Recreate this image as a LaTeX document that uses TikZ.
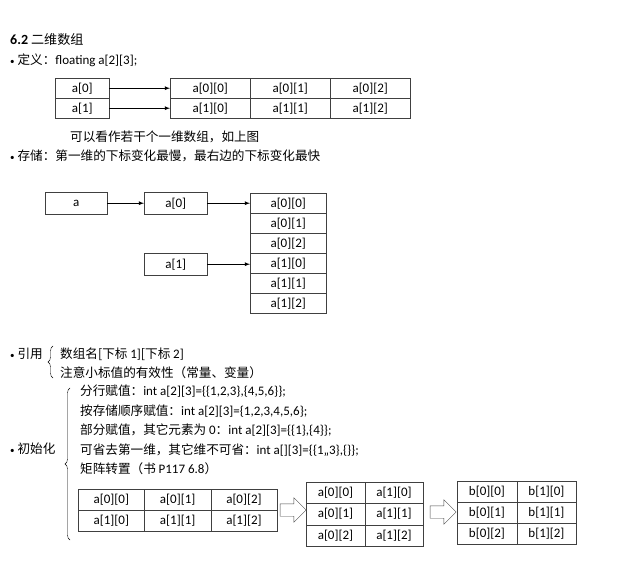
\documentclass[tikz,border=0pt]{standalone}
\usepackage{fontspec}
\setmainfont{Carlito}
\newfontfamily\cjk[Scale=0.97]{Noto Sans CJK SC}
\usetikzlibrary{shapes,shapes.arrows,arrows,positioning,decorations.pathreplacing}

\begin{document}
\begin{tikzpicture}[x=1pt, y=-1pt,
    font=\fontsize{13}{15}\selectfont,
    cell/.style={rectangle, draw=black!75, anchor=north west, inner sep=0pt},
    txt/.style={anchor=west, inner sep=0pt},
    arrow/.style={-latex, thick},
    fatarrow/.style={single arrow, draw=black!70, fill=white, minimum height=26pt, minimum width=24pt, single arrow head extend=6pt, inner sep=6pt},
    curly/.style={decorate, decoration={brace, amplitude=5pt}, thin}]

    \useasboundingbox (0,0) rectangle (640,561);

    % title and definition
    \node[txt] (title) at (10,40) {\textbf{\fontsize{14}{16}\selectfont 6.2} {\cjk\fontsize{13.5}{15}\selectfont 二维数组}};
    \node[txt] (defn) at (10,60) {{\small •} {\cjk 定义：}floating a[2][3];};

    % rows and array of rows
    \node[cell, minimum width=54pt, minimum height=20pt] (p0) at (55,78) {a[0]};
    \node[cell, minimum width=54pt, minimum height=20pt] (p1) at (55,98) {a[1]};
    \foreach \r in {0,1}
      \foreach \c in {0,1,2}
        \node[cell, minimum width=80pt, minimum height=20pt] (c\r\c) at (170+80*\c,78+20*\r) {a[\r][\c]};
    \draw[arrow] (p0) -- (c00);
    \draw[arrow] (p1) -- (c10);

    \node[txt] (note) at (70,137) {\cjk 可以看作若干个一维数组，如上图};
    \node[txt] (store) at (10,156) {{\small •} {\cjk 存储：第一维的下标变化最慢，最右边的下标变化最快}};

    % storage order
    \node[cell, minimum width=62pt, minimum height=22pt] (a) at (45,192) {a};
    \node[cell, minimum width=63pt, minimum height=22pt] (q0) at (144,192) {a[0]};
    \node[cell, minimum width=63pt, minimum height=22pt] (q1) at (144,253) {a[1]};
    \foreach \r in {0,1}
      \foreach \c in {0,1,2}
        \node[cell, minimum width=76pt, minimum height=20pt] (m\r\c) at (250,193+60*\r+20*\c) {a[\r][\c]};
    \draw[arrow] (a) -- (q0);
    \draw[arrow] (q0) -- (q0 -| m00.west);
    \draw[arrow] (q1) -- (q1 -| m10.west);

    % reference
    \node[txt] (ref) at (10,354) {{\small •} {\cjk 引用}};
    \draw[curly] (53,378) -- (53,346);
    \node[txt] (ref1) at (60,354) {{\cjk 数组名[下标 }1]{\cjk [下标 }2]};
    \node[txt] (ref2) at (60,373) {\cjk 注意小标值的有效性（常量、变量）};

    % initialisation
    \node[txt] (init) at (10,449) {{\small •} {\cjk 初始化}};
    \draw[curly] (70,540) -- (70,388);
    \node[txt] (i1) at (80,391) {{\cjk 分行赋值：}int a[2][3]=\{\{1,2,3\},\{4,5,6\}\};};
    \node[txt] (i2) at (80,411) {{\cjk 按存储顺序赋值：}int a[2][3]=\{1,2,3,4,5,6\};};
    \node[txt] (i3) at (80,430) {{\cjk 部分赋值，其它元素为 }0{\cjk ：}int a[2][3]=\{\{1\},\{4\}\};};
    \node[txt] (i4) at (80,450) {{\cjk 可省去第一维，其它维不可省：}int a[][3]=\{\{1,,3\},\{\}\};};
    \node[txt] (i5) at (80,469) {{\cjk 矩阵转置（书 }P117 6.8{\cjk ）}};

    % transpose
    \foreach \r in {0,1}
      \foreach \c in {0,1,2}
        \node[cell, minimum width=66.3pt, minimum height=21pt] (s\r\c) at (78+66.3*\c,489+21*\r) {a[\r][\c]};
    \foreach \r in {0,1}
      \foreach \c in {0,1,2}
        \node[cell, minimum width=58.5pt, minimum height=21.3pt] (t\c\r) at (306+58.5*\r,482+21.3*\c) {a[\r][\c]};
    \foreach \r in {0,1}
      \foreach \c in {0,1,2}
        \node[cell, minimum width=59.5pt, minimum height=21pt] (u\c\r) at (457+59.5*\r,481+21*\c) {b[\r][\c]};
    \node[fatarrow] (ar1) at (290,510) {};
    \node[fatarrow] (ar2) at (440,512) {};

\end{tikzpicture}
\end{document}
